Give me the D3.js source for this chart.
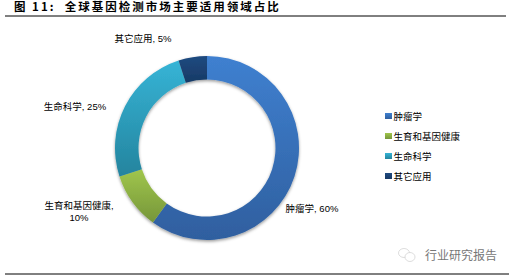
<!DOCTYPE html>
<html><head><meta charset="utf-8">
<script src="https://cdn.jsdelivr.net/npm/d3@7"></script>
<style>html,body{margin:0;padding:0;background:#fff}svg{display:block}
text{font-family:"Liberation Sans","Noto Sans CJK SC",sans-serif;fill:#000}</style></head>
<body><svg id="c" width="512" height="278"></svg>
<script>
const categories=["肿瘤学","生育和基因健康","生命科学","其它应用"];
const values=[60,10,25,5];
const topColors=["#3f80d0","#a0c64c","#36b4d6","#1f4a80"];
const bottomColors=["#2f5f9f","#76963a","#24849e","#173a66"];
const labelLines=[["肿瘤学, 60%"],["生育和基因健康,","10%"],["生命科学, 25%"],["其它应用, 5%"]];
const labelPos=[[312,211.5],[79,209],[75,110],[143,42]];
const title="图 11:  全球基因检测市场主要适用领域占比";
const watermark="行业研究报告";

const svg=d3.select("#c");
const defs=svg.append("defs");
const f=defs.append("filter").attr("id","sh").attr("x","-10%").attr("y","-10%").attr("width","120%").attr("height","120%");
f.append("feDropShadow").attr("dx",0).attr("dy",1.5).attr("stdDeviation",1.5).attr("flood-color","#000").attr("flood-opacity",0.4);

const cx=207,cy=148,R=92,r=68.5;
const pie=d3.pie().sort(null).value(d=>d)(values);
const arc=d3.arc().innerRadius(r).outerRadius(R);
const g=svg.append("g").attr("transform",`translate(${cx},${cy})`).attr("filter","url(#sh)");
pie.forEach((p,i)=>{
  const [x0,y0,x1,y1]=(()=>{const n=60,ys=[];
    for(let k=0;k<=n;k++){const a=p.startAngle+(p.endAngle-p.startAngle)*k/n;
      ys.push(-Math.cos(a)*R,-Math.cos(a)*r);}
    return [0,d3.min(ys),0,d3.max(ys)];})();
  const gr=defs.append("linearGradient").attr("id","g"+i).attr("gradientUnits","userSpaceOnUse")
    .attr("x1",x0).attr("y1",y0).attr("x2",x1).attr("y2",y1);
  gr.append("stop").attr("offset",0).attr("stop-color",topColors[i]);
  gr.append("stop").attr("offset",1).attr("stop-color",bottomColors[i]);
  g.append("path").attr("d",arc(p)).attr("fill",`url(#g${i})`);
});

svg.append("text").attr("x",14).attr("y",10.5).attr("font-size",11.5).attr("font-weight",700).style("font-family",'"Noto Sans CJK SC",sans-serif').attr("xml:space","preserve").style("letter-spacing","2px").text(title);
svg.append("line").attr("x1",5).attr("x2",506).attr("y1",16).attr("y2",16).attr("stroke","#000").attr("stroke-width",1);
svg.append("line").attr("x1",5).attr("x2",509).attr("y1",274).attr("y2",274).attr("stroke","#000").attr("stroke-width",1);

labelLines.forEach((ls,i)=>{
  const t=svg.append("text").attr("text-anchor","middle").attr("font-size",9.5);
  ls.forEach((s,k)=>t.append("tspan").attr("x",labelPos[i][0]).attr("y",labelPos[i][1]+k*12).text(s));
});

const legendY=d3.scalePoint().domain(categories).range([116,176]);
categories.forEach((c,i)=>{
  const y=legendY(c);
  const lg=defs.append("linearGradient").attr("id","l"+i).attr("x1",0).attr("y1",0).attr("x2",0).attr("y2",1);
  lg.append("stop").attr("offset",0).attr("stop-color",topColors[i]);
  lg.append("stop").attr("offset",1).attr("stop-color",bottomColors[i]);
  svg.append("rect").attr("x",385).attr("y",y-3).attr("width",7).attr("height",6).attr("fill",`url(#l${i})`);
  svg.append("text").attr("x",393.5).attr("y",y+3.5).attr("font-size",9.5).text(c);
});

const wm=svg.append("g").attr("stroke","#d4d4d4").attr("fill","#fff").attr("stroke-width",0.8);
wm.append("ellipse").attr("cx",404).attr("cy",253).attr("rx",5.5).attr("ry",4.5);
wm.append("ellipse").attr("cx",410).attr("cy",257).attr("rx",5).attr("ry",4.5);
svg.append("text").attr("x",425).attr("y",259.5).attr("font-size",12).style("fill","#777").text(watermark);
</script></body></html>
